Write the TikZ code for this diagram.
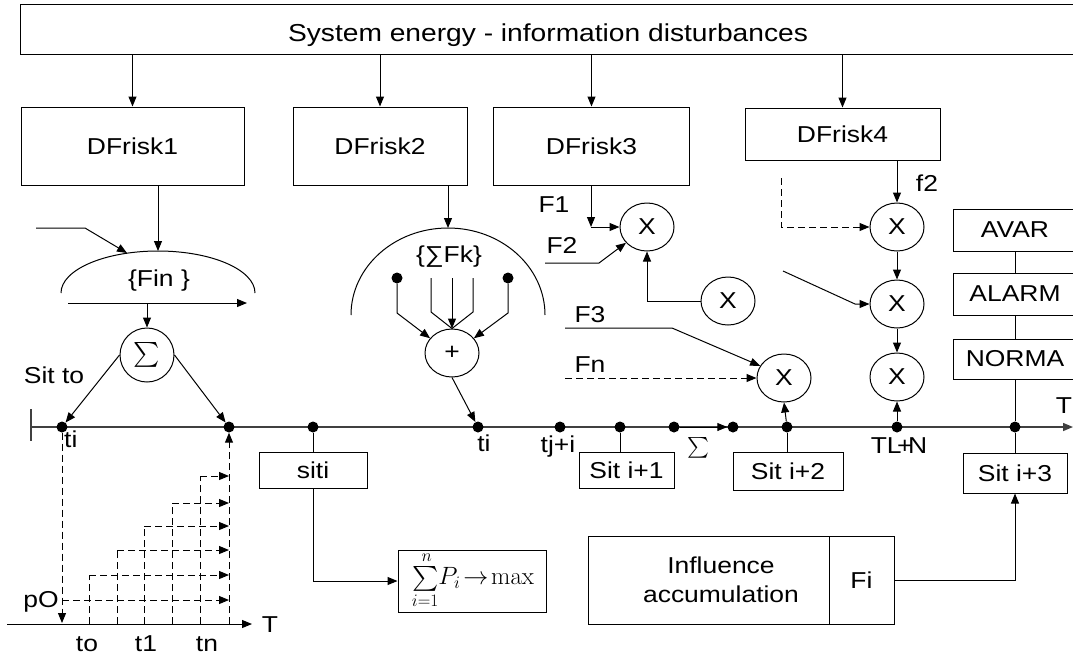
\RequirePackage{fix-cm}
\documentclass[tikz,border=0pt]{standalone}
\usepackage{exscale}
\usepackage[no-math]{fontspec}
\setmainfont{Liberation Sans}[FakeStretch=1.15]
\usetikzlibrary{arrows.meta,shapes.geometric}
\newcommand\myfs{\fontsize{23}{29}\selectfont}
\tikzset{
  ln/.style={line width=1pt},
  arr/.style={ln,-{Triangle[length=10pt,width=8pt]}},
  dsh/.style={dash pattern=on 7pt off 4pt},
  tl/.style={line width=1.4pt,black!75},
  box/.style={draw,ln,inner sep=0pt},
  dotn/.style={circle,fill,inner sep=0pt,minimum size=11pt},
  xel/.style={ellipse,draw,ln,minimum width=54pt,minimum height=48pt,inner sep=0pt},
  lbl/.style={inner sep=0pt,anchor=base},
}
\begin{document}
\begin{tikzpicture}[x=1pt,y=-1pt,font=\myfs]
\useasboundingbox (0,0) rectangle (1073,659);
\clip (0,0) rectangle (1073,659);

% top box and risk boxes
\node[box,minimum width=1062pt,minimum height=50pt] (sys) at (551,29) {};
\node[lbl,font=\fontsize{24.5}{29}\selectfont] (systxt) at (548,41) {System energy - information disturbances};
\node[box,minimum width=223pt,minimum height=78pt] (r1) at (132.5,146) {DFrisk1};
\node[box,minimum width=174pt,minimum height=78pt] (r2) at (380,146) {DFrisk2};
\node[box,minimum width=196pt,minimum height=78pt] (r3) at (591.5,146) {DFrisk3};
\node[box,minimum width=195pt,minimum height=52pt] (r4) at (842.5,134) {DFrisk4};
\foreach \r in {r1,r2,r3,r4} \draw[arr] (sys.south -| \r) -- (\r.north);

% ---- group 1: {Fin}
\coordinate (a1) at (158,251);
\draw[arr] (a1 |- r1.south) -- (a1);
\draw[ln] (61,293) arc[start angle=180,end angle=0,x radius=97pt,y radius=42pt];
\node[lbl] (fin) at (159,286) {\{Fin \}};
\coordinate (in1a) at (36,228);
\coordinate (in1b) at (85,228);
\coordinate (in1c) at (127,253);
\draw[arr] (in1a) -- (in1b) -- (in1c);
\coordinate (h1a) at (68,303);
\coordinate (h1b) at (247,303);
\draw[arr] (h1a) -- (h1b);
\node[circle,draw,ln,minimum size=54pt,inner sep=0pt] (S) at (147,355) {\fontsize{26}{26}\selectfont$\sum$};
\coordinate (s1top) at (147,303);
\draw[arr] (s1top) -- (S.north);
\node[lbl] (sitto) at (54,383) {Sit to};

% ---- time line
\draw[tl] (31,409) -- (31,441);
\coordinate (tls) at (31,427);
\coordinate (tle) at (1073,427);
\draw[tl,-{Triangle[length=10pt,width=8pt]}] (tls) -- (tle);
\foreach \n/\x in {a/62,b/229,c/313,d/478,e/560,f/620,g/674,h/733,i/787,j/897,k/1015}
  \node[dotn] (d\n) at (\x,427) {};
\draw[arr] (dg) -- (dh);
\draw[arr] (S.west) -- (da);
\draw[arr] (S.east) -- (db);
\node[lbl,anchor=base west] at (64,447) {ti};
\node[lbl] at (484,451) {ti};
\node[lbl] at (558,452) {tj+i};
\node at (698,448) {\fontsize{20}{20}\selectfont$\sum$};
\node[lbl] at (899,453) {TL\kern-4.5pt+\kern-4.5ptN};
\node[lbl] at (1064,413) {T};

% ---- staircase
\coordinate (ax0) at (7,624);
\coordinate (ax1) at (252,624);
\draw[arr] (ax0) -- (ax1);
\node[lbl] at (270,632) {T};
\coordinate (ti0) at (62,623);
\draw[arr,dsh] (da) -- (ti0);
\node[lbl] at (41,607) {pO};
\draw[arr,dsh] (62,600) -- (229,600);
\foreach \x/\y in {89/575,117/550,144/526,172/503,200/476}{
  \draw[ln,dsh] (\x,624) -- (\x,\y);
  \draw[arr,dsh] (\x,\y) -- (229,\y);
}
\coordinate (tn0) at (229,624);
\draw[arr,dsh] (tn0) -- (db);
\node[lbl] at (87,651) {to};
\node[lbl] at (146,651) {t1};
\node[lbl] at (207,651) {tn};

% ---- siti and formula
\node[box,minimum width=108pt,minimum height=36pt] (siti) at (313,470) {siti};
\draw[ln] (dc) -- (siti.north);
\node[box,minimum width=148pt,minimum height=62pt] (form) at (472,581) {};
\node[inner sep=0pt] (formtxt) at (473,580)
  {\fontsize{25}{25}\selectfont$\sum\limits_{i=1}^{\,n}\!P_i\!\rightarrow\!\max$};
\draw[arr] (siti.south) |- (form.west);

% ---- group 2: {Sum Fk}
\coordinate (a2) at (448,228);
\draw[arr] (a2 |- r2.south) -- (a2);
\draw[ln] (351,315) arc[start angle=180,end angle=0,x radius=97pt,y radius=87pt];
\node[lbl] (fk) at (449,262) {\{∑Fk\}};
\node[xel] (P) at (452,353) {+};
\node[dotn] (k1) at (397,278) {};
\node[dotn] (k2) at (508,278) {};
\draw[arr] (k1) -- (397,313) -- (P.146);
\draw[arr] (k2) -- (508,313) -- (P.34);
\draw[ln] (431,278) -- (431,312) -- (P.north);
\draw[ln] (473,278) -- (473,312) -- (P.north);
\coordinate (m2) at (452,278);
\draw[arr] (m2) -- (P.north);
\draw[arr] (P.south) -- (dd);

% ---- group 3
\node[xel] (X1) at (647,227) {X};
\node[xel] (X2) at (728,301) {X};
\node[xel] (X3) at (784,378) {X};
\coordinate (c1) at (591,227);
\draw[arr] (r3.south -| c1) -- (c1);
\draw[arr] (c1) -- (X1.west);
\node[lbl] at (554,212) {F1};
\node[lbl] at (562,253) {F2};
\draw[arr] (545,263) -- (599,263) -- (X1.217);
\coordinate (c2) at (647,301);
\draw[arr] (X2.west) -- (c2) -- (X1.south);
\node[lbl] at (590,322) {F3};
\draw[arr] (565,328) -- (672,328) -- (X3.153);
\node[lbl] at (590,372) {Fn};
\draw[arr,dsh] (565,378) -- (X3.west);
\draw[arr] (di) -- (X3.south);

% ---- group 4
\node[xel] (X4) at (897,227) {X};
\node[xel] (X5) at (897,304) {X};
\node[xel] (X6) at (897,377) {X};
\draw[arr] (r4.south -| X4) -- (X4.north);
\node[lbl] at (927,191) {f2};
\draw[arr,dsh] (781,178) -- (781,227) -- (X4.west);
\draw[arr] (783,271) -- (855,304) -- (X5.west);
\draw[arr] (X4) -- (X5);
\draw[arr] (X5) -- (X6);
\draw[arr] (dj) -- (X6.south);

% ---- right column
\node[box,minimum width=124pt,minimum height=42pt] (avar) at (1015,230) {AVAR};
\node[box,minimum width=124pt,minimum height=42pt] (alarm) at (1015,294) {ALARM};
\node[box,minimum width=124pt,minimum height=40pt] (norma) at (1015,359) {NORMA};
\draw[ln] (avar.south) -- (alarm.north);
\draw[ln] (alarm.south) -- (norma.north);
\draw[ln] (norma.south) -- (dk);
\node[box,minimum width=104pt,minimum height=40pt] (s3) at (1015,473) {Sit i+3};
\draw[ln] (dk) -- (s3.north);

% ---- situation boxes
\node[box,minimum width=95pt,minimum height=36pt] (s1) at (626.5,470) {Sit i+1};
\draw[ln] (df) -- (df |- s1.north);
\node[box,minimum width=110pt,minimum height=38pt] (s2) at (788,471) {Sit i+2};
\draw[ln] (di) -- (di |- s2.north);

% ---- influence accumulation
\node[box,minimum width=241pt,minimum height=88pt] (infl) at (708.5,580) {};
\node[align=center,inner sep=0pt] (infltxt) at (721,580) {Influence\\accumulation};
\node[box,minimum width=65pt,minimum height=88pt] (fi) at (861.5,580) {Fi};
\draw[arr] (fi.east) -| (s3.south);
\end{tikzpicture}
\end{document}
